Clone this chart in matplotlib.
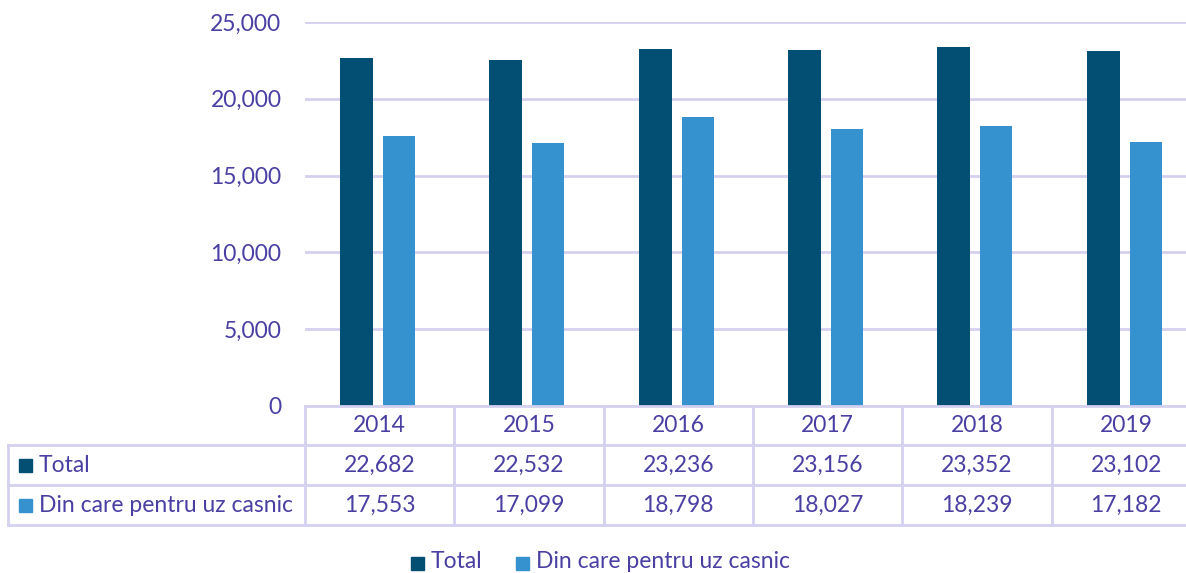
import matplotlib

matplotlib.use("Agg")

import matplotlib.pyplot as plt
import numpy as np
from matplotlib.transforms import blended_transform_factory

years = ["2014", "2015", "2016", "2017", "2018", "2019"]
total = [22682, 22532, 23236, 23156, 23352, 23102]
casnic = [17553, 17099, 18798, 18027, 18239, 17182]
series_names = ["Total", "Din care pentru uz casnic"]

DARK = "#034f74"
LIGHT = "#3592cf"
TEXT = "#4a3fa3"
GRID = "#d4d0ef"
W, H = 1186, 573
FS = 16.5

plt.rcParams["font.family"] = ["Lato", "DejaVu Sans"]


def fx(px):
    return px / W


def fy(py):
    return 1 - py / H


def fmt(v):
    return f"{v:,}"


fig = plt.figure(figsize=(W / 100, H / 100), dpi=100)
# plot area runs a little past the right edge, as in the reference
ax = fig.add_axes([fx(305), fy(406), fx(1201) - fx(305), fy(22) - fy(406)])

x = np.arange(len(years))
ax.bar(x - 0.155, total, width=0.22, color=DARK, zorder=3)
ax.bar(x + 0.13, casnic, width=0.215, color=LIGHT, zorder=3)

ax.set_xlim(-0.5, len(years) - 0.5)
ax.set_ylim(0, 25000)
ax.set_yticks(np.arange(0, 25001, 5000))
ax.set_yticklabels([fmt(v) if v else "0" for v in range(0, 25001, 5000)])
ax.tick_params(axis="y", length=0, pad=17, labelsize=FS, labelcolor=TEXT)
ax.set_xticks([])
for s in ax.spines.values():
    s.set_visible(False)
ax.grid(axis="y", color=GRID, linewidth=2, zorder=0)

# data table under the axis
bt = blended_transform_factory(ax.transData, fig.transFigure)
ft = fig.transFigure
lw = 2
for py in [445, 485, 525]:
    fig.add_artist(plt.Line2D([fx(8), fx(1201)], [fy(py)] * 2, color=GRID, lw=lw))
fig.add_artist(plt.Line2D([fx(305), fx(1201)], [fy(406)] * 2, color=GRID, lw=lw))
fig.add_artist(plt.Line2D([fx(8), fx(8)], [fy(445), fy(525)], color=GRID, lw=lw))
for b in np.arange(-0.5, len(years)):
    ax.add_line(plt.Line2D([b, b], [fy(406), fy(525)], color=GRID, lw=lw,
                           transform=bt, clip_on=False))

for i, yr in enumerate(years):
    ax.text(i, fy(426), yr, transform=bt, ha="center", va="center", fontsize=FS, color=TEXT)
    ax.text(i, fy(465), fmt(total[i]), transform=bt, ha="center", va="center", fontsize=FS, color=TEXT)
    ax.text(i, fy(505), fmt(casnic[i]), transform=bt, ha="center", va="center", fontsize=FS, color=TEXT)

for name, col, py in [(series_names[0], DARK, 465), (series_names[1], LIGHT, 505)]:
    fig.add_artist(plt.Rectangle((fx(19), fy(py + 7)), fx(13), fy(0) - fy(13),
                                 transform=ft, color=col))
    fig.text(fx(39), fy(py), name, ha="left", va="center", fontsize=FS, color=TEXT)

# legend at bottom
for name, col, px in [(series_names[0], DARK, 411), (series_names[1], LIGHT, 516)]:
    fig.add_artist(plt.Rectangle((fx(px), fy(570)), fx(13), fy(0) - fy(13),
                                 transform=ft, color=col))
    fig.text(fx(px + 20), fy(561), name, ha="left", va="center", fontsize=FS, color=TEXT)

fig.savefig("out.png", dpi=100)
